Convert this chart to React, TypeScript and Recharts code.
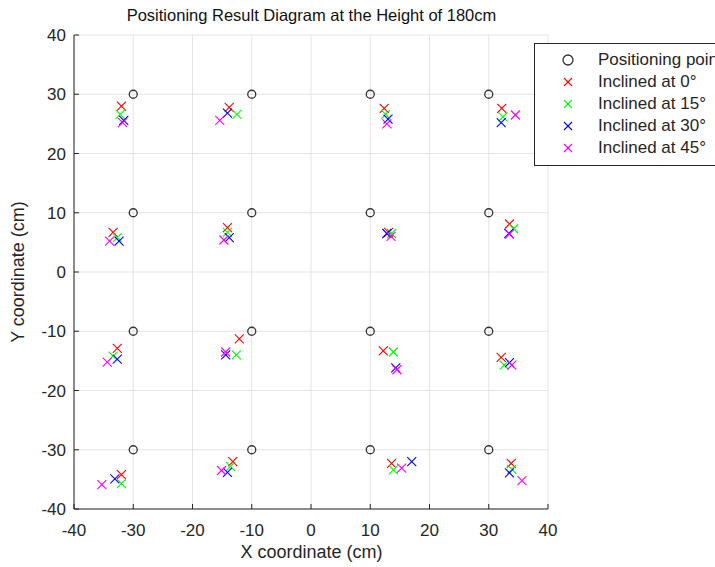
import React from "react";
import { ScatterChart, Scatter, XAxis, YAxis, CartesianGrid } from "recharts";

// reference grid points
const refX = [-30, -10, 10, 30, -30, -10, 10, 30, -30, -10, 10, 30, -30, -10, 10, 30];
const refY = [30, 30, 30, 30, 10, 10, 10, 10, -10, -10, -10, -10, -30, -30, -30, -30];

// measured results, same order as the reference points
const deg0X = [-32.0, -13.8, 12.35, 32.2, -33.4, -14.1, 13.1, 33.5, -32.7, -12.1, 12.2, 32.1, -32.0, -13.2, 13.6, 33.8];
const deg0Y = [28.0, 27.8, 27.6, 27.6, 6.7, 7.5, 6.7, 8.1, -12.9, -11.3, -13.3, -14.4, -34.2, -32.0, -32.3, -32.3];

const deg15X = [-32.2, -12.5, 12.6, 32.4, -32.7, -14.1, 13.6, 34.2, -33.4, -12.6, 13.9, 32.6, -32.0, -13.6, 13.9, 33.9];
const deg15Y = [26.6, 26.6, 26.6, 26.2, 5.8, 6.7, 6.5, 7.3, -14.2, -14.0, -13.5, -15.7, -35.7, -32.8, -33.4, -33.3];

const deg30X = [-31.6, -14.1, 13.0, 32.1, -32.4, -13.8, 12.8, 33.4, -32.7, -14.4, 14.3, 33.5, -33.1, -14.1, 17.0, 33.5];
const deg30Y = [25.6, 26.8, 25.8, 25.2, 5.2, 5.8, 6.5, 6.5, -14.7, -14.0, -16.2, -15.3, -34.9, -33.8, -32.0, -33.9];

const deg45X = [-31.8, -15.4, 12.8, 34.5, -34.0, -14.7, 13.5, 33.5, -34.4, -14.4, 14.5, 33.9, -35.3, -15.1, 15.3, 35.6];
const deg45Y = [25.2, 25.6, 25.0, 26.5, 5.2, 5.4, 6.0, 6.4, -15.2, -13.5, -16.5, -15.7, -35.9, -33.5, -33.1, -35.2];

const ticks = [-40, -30, -20, -10, 0, 10, 20, 30, 40];

const seriesNames = ["Positioning point", "Inclined at 0°", "Inclined at 15°", "Inclined at 30°", "Inclined at 45°"];
const seriesColors = ["#333333", "#ff0000", "#00ff00", "#0000ff", "#ff00ff"];

const zip = (xs: number[], ys: number[]) => xs.map((x, i) => ({ x, y: ys[i] }));

const FONT = "'Liberation Sans', Arial, sans-serif";
const AXIS = "#262626";

function Cross(props: any) {
  const { cx, cy, fill } = props;
  const s = 4.5;
  return (
    <g stroke={fill} strokeWidth={1.1}>
      <line x1={cx - s} y1={cy - s} x2={cx + s} y2={cy + s} />
      <line x1={cx - s} y1={cy + s} x2={cx + s} y2={cy - s} />
    </g>
  );
}

function Ring(props: any) {
  const { cx, cy } = props;
  return <circle cx={cx} cy={cy} r={4} fill="none" stroke="#333" strokeWidth={1.3} />;
}

function XTick(props: any) {
  const { x, y, payload } = props;
  return (
    <g>
      <line x1={x} y1={y} x2={x} y2={y - 5} stroke={AXIS} />
      <text x={x} y={y + 27} textAnchor="middle" fill={AXIS} fontSize={17} fontFamily={FONT}>
        {payload.value}
      </text>
    </g>
  );
}

function YTick(props: any) {
  const { x, y, payload } = props;
  return (
    <g>
      <line x1={x} y1={y} x2={x + 5} y2={y} stroke={AXIS} />
      <text x={x - 8} y={y} dy="0.36em" textAnchor="end" fill={AXIS} fontSize={17} fontFamily={FONT}>
        {payload.value}
      </text>
    </g>
  );
}

function LegendSymbol({ i }: { i: number }) {
  return (
    <svg width={14} height={14} style={{ display: "block" }}>
      {i === 0 ? (
        <circle cx={7} cy={7} r={5} fill="none" stroke="#333" strokeWidth={1.3} />
      ) : (
        <g stroke={seriesColors[i]} strokeWidth={1.1}>
          <line x1={3} y1={3} x2={11} y2={11} />
          <line x1={3} y1={11} x2={11} y2={3} />
        </g>
      )}
    </svg>
  );
}

export default function App() {
  const sets = [
    zip(refX, refY),
    zip(deg0X, deg0Y),
    zip(deg15X, deg15Y),
    zip(deg30X, deg30Y),
    zip(deg45X, deg45Y),
  ];

  return (
    <div
      style={{
        position: "fixed",
        left: 0,
        top: 0,
        width: 715,
        height: 567,
        overflow: "hidden",
        background: "#fff",
        fontFamily: FONT,
      }}
    >
      <ScatterChart width={715} height={567} margin={{ top: 35, right: 167, bottom: 18, left: 34 }}>
        <CartesianGrid stroke="#e3e3e3" />
        <XAxis
          type="number"
          dataKey="x"
          domain={[-40, 40]}
          ticks={ticks}
          height={40}
          tickSize={0}
          tickMargin={0}
          tickLine={false}
          axisLine={{ stroke: AXIS }}
          tick={<XTick />}
          interval={0}
          allowDataOverflow
        />
        <YAxis
          type="number"
          dataKey="y"
          domain={[-40, 40]}
          ticks={ticks}
          width={40}
          tickSize={0}
          tickMargin={0}
          tickLine={false}
          axisLine={{ stroke: AXIS }}
          tick={<YTick />}
          interval={0}
          allowDataOverflow
        />
        {sets.map((d, i) => (
          <Scatter
            key={seriesNames[i]}
            name={seriesNames[i]}
            data={d}
            fill={seriesColors[i]}
            shape={i === 0 ? <Ring /> : <Cross />}
            isAnimationActive={false}
          />
        ))}
      </ScatterChart>

      <div
        style={{
          position: "absolute",
          left: 0,
          width: 623,
          top: 6,
          textAlign: "center",
          fontSize: 16.5,
          color: "#111",
        }}
      >
        Positioning Result Diagram at the Height of 180cm
      </div>
      <div
        style={{
          position: "absolute",
          left: 0,
          width: 623,
          top: 542,
          textAlign: "center",
          fontSize: 18,
          color: AXIS,
        }}
      >
        X coordinate (cm)
      </div>
      <div
        style={{
          position: "absolute",
          left: 18,
          top: 272,
          transform: "translate(-50%, -50%) rotate(-90deg)",
          whiteSpace: "nowrap",
          fontSize: 18,
          color: AXIS,
        }}
      >
        Y coordinate (cm)
      </div>

      <div
        style={{
          position: "absolute",
          left: 534,
          top: 43,
          width: 220,
          padding: "5px 0 6px 0",
          border: "1px solid #262626",
          background: "#fff",
        }}
      >
        {seriesNames.map((n, i) => (
          <div key={n} style={{ display: "flex", alignItems: "center", height: 22 }}>
            <div style={{ width: 14, marginLeft: 26 }}>
              <LegendSymbol i={i} />
            </div>
            <span style={{ marginLeft: 23, fontSize: 17, color: AXIS, whiteSpace: "nowrap" }}>{n}</span>
          </div>
        ))}
      </div>
    </div>
  );
}
